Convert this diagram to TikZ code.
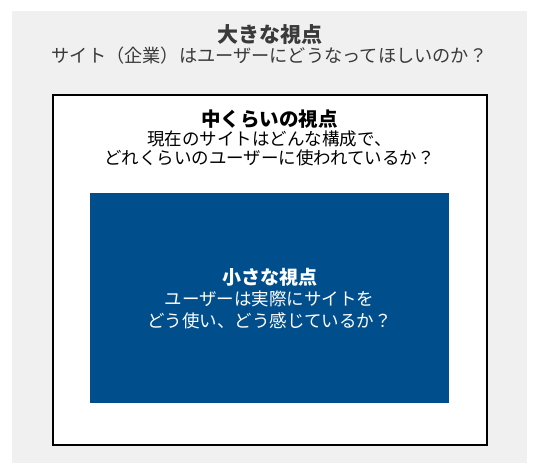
\documentclass[tikz,border=0pt]{standalone}
\usepackage{fontspec}
\setmainfont{Noto Sans CJK JP}
\definecolor{bggray}{HTML}{F0F0F0}
\definecolor{boxblue}{HTML}{004F8C}
\definecolor{topgray}{HTML}{3A3A3A}
\begin{document}
\begin{tikzpicture}[x=1pt,y=-1pt,
  titletext/.style={anchor=base,inner sep=0pt,font=\bfseries\fontsize{#1}{#1}\selectfont},
  bodytext/.style={anchor=base,inner sep=0pt,font=\fontsize{#1}{#1}\selectfont}]
\useasboundingbox (0,0) rectangle (539,471);
% outer gray area
\fill[bggray] (12,11) rectangle (527,463);
% middle box
\node[draw=black,line width=2pt,fill=white,inner sep=0pt,minimum width=434.1pt,minimum height=350pt,anchor=north west] (mid) at (52.2,93.7) {};
% inner blue box
\node[fill=boxblue,inner sep=0pt,minimum width=359pt,minimum height=210pt,anchor=north west] (small) at (90,193) {};
% big view texts
\node[titletext=21,text=topgray] (bigT) at (269.5,42) {大きな視点};
\node[bodytext=18.2,text=topgray] (bigB) at (269.5,63) {サイト（企業）はユーザーにどうなってほしいのか？};
% middle view texts
\node[titletext=19.5,text=black] (midT) at (269.5,126.4) {中くらいの視点};
\node[bodytext=17.5,text=black] (midB1) at (269.5,145.6) {現在のサイトはどんな構成で、};
\node[bodytext=17.5,text=black] (midB2) at (269.5,164.6) {どれくらいのユーザーに使われているか？};
% small view texts
\node[titletext=19,text=white] (smT) at (269.5,284.7) {小さな視点};
\node[bodytext=17.5,text=white] (smB1) at (269.5,305.6) {ユーザーは実際にサイトを};
\node[bodytext=17.5,text=white] (smB2) at (269.5,327.6) {どう使い、どう感じているか？};
\end{tikzpicture}
\end{document}
